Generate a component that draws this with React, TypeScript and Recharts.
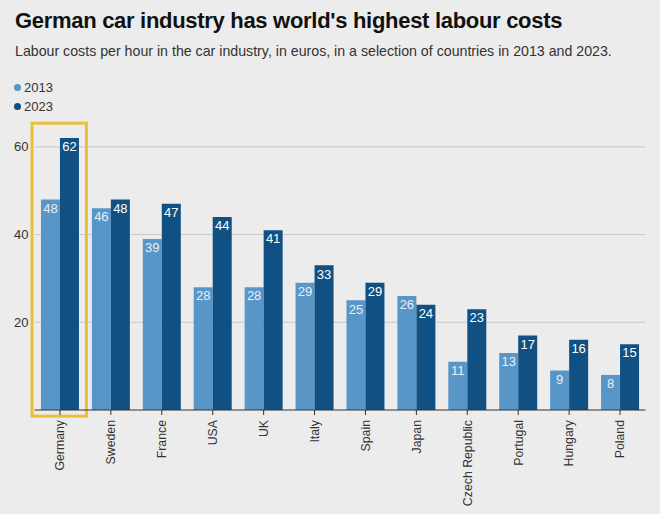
import { BarChart, Bar, XAxis, YAxis, CartesianGrid, LabelList, ReferenceArea } from 'recharts';

const countries = [
  'Germany', 'Sweden', 'France', 'USA', 'UK', 'Italy',
  'Spain', 'Japan', 'Czech Republic', 'Portugal', 'Hungary', 'Poland',
];
const costs2013 = [48, 46, 39, 28, 28, 29, 25, 26, 11, 13, 9, 8];
const costs2023 = [62, 48, 47, 44, 41, 33, 29, 24, 23, 17, 16, 15];
const yTicks = [20, 40, 60];

const LIGHT = '#5896c8';
const DARK = '#105082';
const FONT = '"Liberation Sans", Arial, Helvetica, sans-serif';

const data = countries.map((name, i) => ({
  name,
  y2013: costs2013[i],
  y2023: costs2023[i],
}));

function CountryTick(props: any) {
  const { x, y, payload } = props;
  return (
    <g transform={`translate(${x},${y})`}>
      <text
        transform="rotate(-90)"
        x={-3}
        dy="0.35em"
        textAnchor="end"
        fill="#333"
        fontSize={12.3}
        fontFamily={FONT}
      >
        {payload.value}
      </text>
    </g>
  );
}

function Highlight(props: any) {
  const { x, y, width, height } = props;
  return (
    <rect
      x={x - 2.5}
      y={y}
      width={width + 3.5}
      height={height}
      fill="none"
      stroke="#e9c03c"
      strokeWidth={3}
    />
  );
}

export default function App() {
  return (
    <div style={{ position: 'fixed', left: 0, top: 0, width: 660, height: 514, background: '#ececec', fontFamily: FONT, overflow: 'hidden' }}>
      <div style={{ position: 'absolute', left: 15, top: 8, fontSize: 22, fontWeight: 'bold', color: '#111', letterSpacing: -0.3 }}>
        German car industry has world's highest labour costs
      </div>
      <div style={{ position: 'absolute', left: 15, top: 43, fontSize: 14.2, color: '#333' }}>
        Labour costs per hour in the car industry, in euros, in a selection of countries in 2013 and 2023.
      </div>
      <div style={{ position: 'absolute', left: 14, top: 78, fontSize: 13, color: '#333', lineHeight: '19px' }}>
        <div style={{ display: 'flex', alignItems: 'center' }}>
          <span style={{ width: 7, height: 7, borderRadius: 4, background: LIGHT, marginRight: 3 }} />2013
        </div>
        <div style={{ display: 'flex', alignItems: 'center' }}>
          <span style={{ width: 7, height: 7, borderRadius: 4, background: DARK, marginRight: 3 }} />2023
        </div>
      </div>
      <div style={{ position: 'absolute', left: 0, top: 0 }}>
        <BarChart
          width={660}
          height={514}
          data={data}
          margin={{ top: 103, right: 14.5, left: 0, bottom: 0 }}
          barCategoryGap="12.7%"
          barGap={0}
        >
          <CartesianGrid vertical={false} stroke="#c8c8c8" horizontalValues={yTicks} />
          <XAxis
            dataKey="name"
            interval={0}
            height={104}
            tick={<CountryTick />}
            tickSize={5}
            axisLine={{ stroke: '#333' }}
            tickLine={{ stroke: '#333' }}
          />
          <YAxis
            width={34.5}
            domain={[0, 70]}
            ticks={yTicks}
            axisLine={false}
            tickLine={false}
            tickSize={4}
            tickMargin={2}
            tick={{ fill: '#333', fontSize: 13, fontFamily: FONT }}
          />
          <ReferenceArea
            x1="Germany"
            x2="Germany"
            y1={-1.4}
            y2={65.4}
            ifOverflow="visible"
            shape={<Highlight />}
          />
          <Bar dataKey="y2013" fill={LIGHT} isAnimationActive={false}>
            <LabelList dataKey="y2013" position="insideTop" offset={4} fill="#e8eef5" fontSize={13} fontFamily={FONT} />
          </Bar>
          <Bar dataKey="y2023" fill={DARK} isAnimationActive={false}>
            <LabelList dataKey="y2023" position="insideTop" offset={4} fill="#ffffff" fontSize={13} fontFamily={FONT} />
          </Bar>
        </BarChart>
      </div>
    </div>
  );
}
